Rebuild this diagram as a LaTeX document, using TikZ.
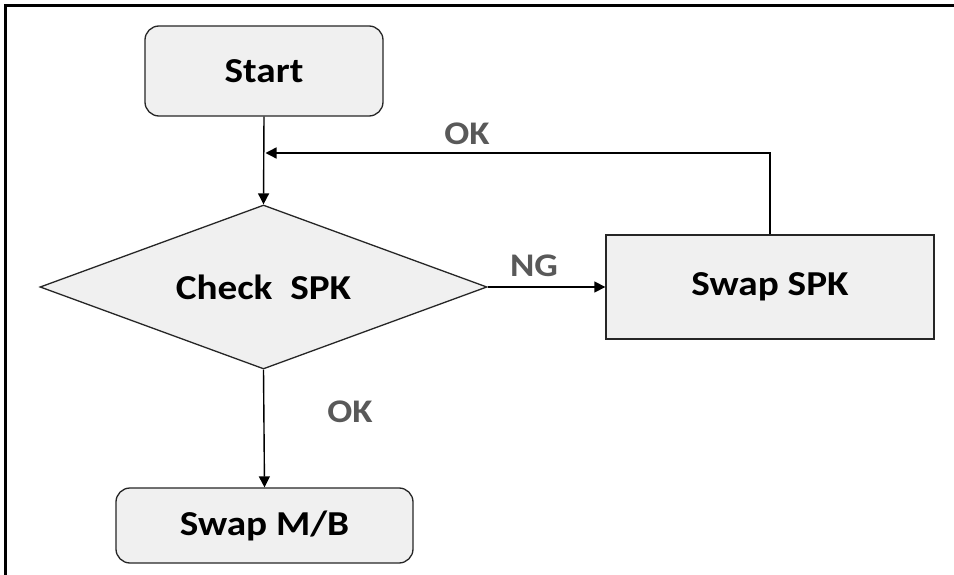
\documentclass[tikz,border=0pt]{standalone}
\usepackage{fontspec}
\setmainfont{Carlito}[FakeStretch=1.12]
\usetikzlibrary{shapes.geometric,arrows.meta}
\definecolor{boxfill}{HTML}{F0F0F0}
\definecolor{lblgray}{HTML}{595959}
\definecolor{edgegray}{HTML}{262626}
\begin{document}
\begin{tikzpicture}[x=1pt,y=-1pt,
  box/.style={draw=edgegray, line width=1.3pt, fill=boxfill, inner sep=0pt,
    font=\bfseries\fontsize{35}{40}\selectfont},
  lbl/.style={text=lblgray, inner sep=0pt, font=\bfseries\fontsize{33}{38}\selectfont},
  arr/.style={-{Triangle[length=11pt,width=11pt]}, line width=1.4pt, draw=black}]
\useasboundingbox (0,0) rectangle (954,575);
\fill[white] (0,0) rectangle (954,575);
% partial frame (left and top)
\draw[line width=3pt] (5.5,575) -- (5.5,5.5) -- (954,5.5);

\node[box, rounded corners=14pt, minimum width=238pt, minimum height=90pt] (start) at (264,71) {Start};
\node[box, diamond, aspect=2.73, minimum width=447pt, minimum height=164pt] (check) at (263.5,287) {Check\ \ SPK\hspace{14pt}};
\node[box, minimum width=328pt, minimum height=104pt] (swapspk) at (770,287) {Swap SPK};
\node[box, rounded corners=14pt, minimum width=297pt, minimum height=75pt] (swapmb) at (264.5,525.5) {Swap M/B};

\coordinate (join) at (265.5,153);

\draw[arr] (start.south) -- (check.north);
\draw[arr] (check.east) -- (swapspk.west);
\draw[arr] (check.south) -- (swapmb.north);
\draw[arr] (swapspk.north) |- (join);

\node[lbl] (okloop) at (467,134) {OK};
\node[lbl] (ng) at (534,266) {NG};
\node[lbl] (okdown) at (350,412) {OK};
\end{tikzpicture}
\end{document}
